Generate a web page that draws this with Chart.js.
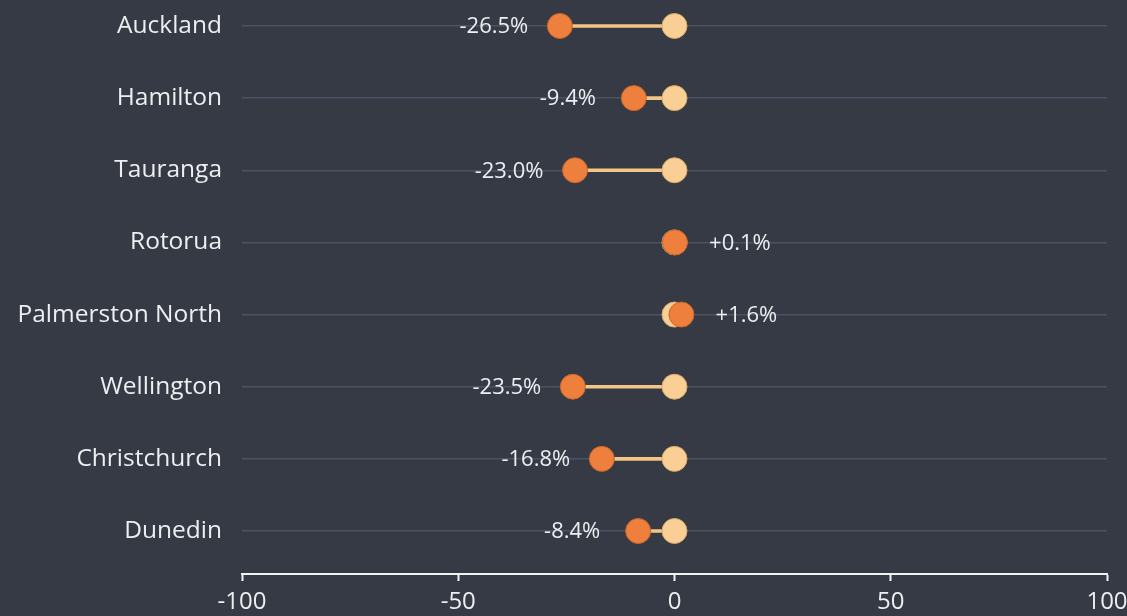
<!DOCTYPE html>
<html>
<head>
<meta charset="utf-8">
<script src="https://cdn.jsdelivr.net/npm/chart.js@4.4.1/dist/chart.umd.min.js"></script>
<style>
  html, body { margin: 0; padding: 0; background: #363a44; overflow: hidden; width: 1127px; height: 616px; }
  #wrap { position: absolute; left: 0; top: 0; width: 1127px; height: 640px; }
</style>
</head>
<body>
<div id="wrap"><canvas id="c" width="1127" height="640"></canvas></div>
<script>
const categories = ["Auckland", "Hamilton", "Tauranga", "Rotorua", "Palmerston North", "Wellington", "Christchurch", "Dunedin"];
const baseline = [0, 0, 0, 0, 0, 0, 0, 0];
const changes = [-26.5, -9.4, -23.0, 0.1, 1.6, -23.5, -16.8, -8.4];
const xTicks = [-100, -50, 0, 50, 100];

const FONT = "'Open Sans', 'DejaVu Sans', sans-serif";
const TEXT = "#eceef1";

const valueLabels = {
  id: 'valueLabels',
  afterDatasetsDraw(chart) {
    const xs = chart.scales.x, ys = chart.scales.y, ctx = chart.ctx;
    ctx.save();
    ctx.font = "22px " + FONT;
    ctx.fillStyle = TEXT;
    ctx.textAlign = 'center';
    ctx.textBaseline = 'middle';
    changes.forEach((v, i) => {
      const px = xs.getPixelForValue(v);
      const py = ys.getPixelForValue(i);
      const txt = (v > 0 ? '+' : '') + v.toFixed(1) + '%';
      ctx.fillText(txt, v < 0 ? px - 66 : px + 65, py + 1);
    });
    ctx.restore();
  }
};

new Chart(document.getElementById('c'), {
  type: 'scatter',
  data: {
    datasets: [
      {
        type: 'bar',
        indexAxis: 'y',
        data: changes.map((v, i) => ({ x: [v, baseline[i]], y: i })),
        backgroundColor: '#f3c587',
        borderWidth: 0,
        barThickness: 3,
        order: 3
      },
      {
        type: 'scatter',
        data: baseline.map((v, i) => ({ x: v, y: i })),
        backgroundColor: '#f9cf95',
        borderColor: '#d9a96a',
        borderWidth: 1,
        pointRadius: 12.5,
        pointHoverRadius: 12.5,
        showLine: false,
        order: 2
      },
      {
        type: 'scatter',
        data: changes.map((v, i) => ({ x: v, y: i })),
        backgroundColor: '#ee7f3d',
        borderColor: '#c9662c',
        borderWidth: 1,
        pointRadius: 12.5,
        pointHoverRadius: 12.5,
        showLine: false,
        order: 1
      }
    ]
  },
  options: {
    responsive: false,
    animation: false,
    events: [],
    layout: { autoPadding: false, padding: { top: 0, right: 20, left: 0, bottom: 0 } },
    plugins: { legend: { display: false }, tooltip: { enabled: false } },
    scales: {
      x: {
        type: 'linear',
        offset: false,
        min: -100, max: 100,
        afterBuildTicks(scale) { scale.ticks = xTicks.map(v => ({ value: v })); },
        afterFit(scale) { scale.height = 66; scale.paddingLeft = 0; scale.paddingRight = 0; },
        border: { display: true, color: '#f2f2f2', width: 2 },
        grid: { offset: false, drawOnChartArea: false, drawTicks: true, tickLength: 7, tickColor: '#f2f2f2', tickWidth: 2 },
        ticks: { color: TEXT, font: { family: FONT, size: 24 }, padding: 7, maxRotation: 0 }
      },
      y: {
        type: 'linear',
        offset: false,
        reverse: true,
        min: -0.360, max: 7.596,
        afterBuildTicks(scale) { scale.ticks = categories.map((c, i) => ({ value: i })); },
        afterFit(scale) { scale.width = 242; scale.paddingTop = 0; scale.paddingBottom = 0; },
        border: { display: false },
        grid: { offset: false, color: '#4a5265', lineWidth: 1.5, drawTicks: false },
        ticks: {
          color: TEXT, font: { family: FONT, size: 24.5 }, padding: 20,
          callback: (v) => categories[v]
        }
      }
    }
  },
  plugins: [valueLabels]
});
</script>
</body>
</html>
